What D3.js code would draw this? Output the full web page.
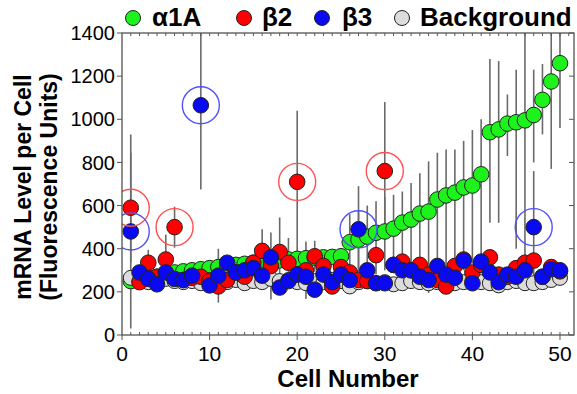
<!DOCTYPE html>
<html>
<head>
<meta charset="utf-8">
<script src="https://cdnjs.cloudflare.com/ajax/libs/d3/7.8.5/d3.min.js"></script>
<style>
body { margin: 0; background: #fff; }
text { font-family: "Liberation Sans", Arial, Helvetica, sans-serif; }
</style>
</head>
<body>
<svg id="chart" width="577" height="394"></svg>
<script>
// cell numbers 1..50
var cells = d3.range(1, 51);

// alpha1A (sorted, green)
var alpha1A = [250, 260, 265, 270, 280, 290, 295, 300, 305, 310,
               315, 320, 325, 330, 335, 340, 343, 346, 350, 353,
               356, 358, 360, 362, 365, 430, 442, 456, 474, 480,
               493, 521, 535, 563, 572, 628, 647, 660, 684, 693,
               745, 940, 953, 980, 986, 995, 1020, 1090, 1175, 1260];
// bar ends for alpha1A (0 = no visible bar)
var alphaHi = [0, 0, 0, 0, 0, 0, 0, 0, 0, 0,
               0, 0, 0, 0, 0, 0, 0, 0, 0, 0,
               0, 0, 0, 0, 0, 560, 580, 600, 620, 640,
               650, 665, 705, 750, 805, 845, 860, 860, 900, 950,
               1000, 1280, 1270, 1115, 1230, 1450, 1230, 1256, 1450, 1450];
var alphaLo = [0, 0, 0, 0, 0, 0, 0, 0, 0, 0,
               0, 0, 0, 0, 0, 0, 0, 0, 0, 0,
               0, 0, 0, 0, 0, 300, 310, 320, 280, 300,
               290, 300, 290, 240, 195, 230, 260, 280, 300, 330,
               350, 520, 520, 830, 400, 370, 800, 930, 770, 960];

var beta2 = [590, 245, 335, 270, 350, 500, 255, 265, 270, 250,
             225, 255, 290, 270, 335, 390, 320, 385, 335, 710,
             300, 365, 320, 225, 315, 290, 255, 250, 370, 760,
             325, 340, 300, 325, 280, 255, 225, 320, 350, 290,
             325, 360, 280, 270, 310, 335, 345, 270, 315, 295];
var beta2Err = [255, 0, 60, 0, 115, 95, 0, 0, 0, 0,
                0, 0, 0, 0, 0, 100, 155, 160, 115, 330,
                133, 72, 0, 0, 0, 0, 0, 0, 0, 320,
                0, 0, 0, 0, 0, 0, 0, 0, 0, 0,
                0, 0, 0, 0, 0, 0, 0, 0, 0, 0];

var beta3 = [480, 290, 260, 235, 290, 260, 255, 275, 1065, 230,
             275, 335, 290, 300, 310, 275, 360, 220, 250, 280,
             270, 210, 280, 245, 280, 255, 490, 300, 240, 240,
             325, 300, 300, 270, 255, 320, 280, 265, 345, 240,
             340, 290, 245, 280, 270, 300, 500, 270, 305, 300];
var beta3Err = [450, 0, 0, 0, 0, 0, 0, 0, 390, 0,
                125, 0, 0, 0, 0, 0, 0, 0, 0, 0,
                0, 0, 0, 0, 0, 0, 200, 0, 0, 0,
                0, 0, 0, 0, 0, 0, 0, 0, 0, 0,
                0, 0, 0, 0, 0, 0, 260, 0, 0, 0];

var background = [265, 250, 245, 255, 260, 250, 245, 250, 240, 255,
                  250, 245, 255, 240, 250, 245, 260, 250, 255, 245,
                  240, 250, 245, 255, 250, 225, 245, 250, 240, 245,
                  235, 240, 250, 245, 240, 245, 250, 240, 245, 250,
                  245, 240, 230, 245, 250, 240, 240, 245, 255, 265];

// circled cells
var beta2Marked = [1, 6, 20, 30];
var beta3Marked = [1, 9, 27, 47];

var yTicks = [0, 200, 400, 600, 800, 1000, 1200, 1400];
var xTicks = [0, 10, 20, 30, 40, 50];

var svg = d3.select("#chart");
var pLeft = 122, pRight = 574, pTop = 33, pBottom = 335;

var x = d3.scaleLinear().domain([0, 51.6]).range([pLeft, pRight]);
var y = d3.scaleLinear().domain([0, 1400]).range([pBottom, pTop]);

var plot = svg.append("g");
plot.append("clipPath").attr("id", "clip")
  .append("rect").attr("x", pLeft).attr("y", pTop).attr("width", pRight - pLeft).attr("height", pBottom - pTop);

var marks = plot.append("g").attr("clip-path", "url(#clip)");

// error bars
var bars = [];
cells.forEach(function (c, i) {
  if (alphaHi[i]) bars.push({c: c, lo: alphaLo[i], hi: alphaHi[i]});
  if (beta2Err[i]) bars.push({c: c, lo: beta2[i] - beta2Err[i], hi: beta2[i] + beta2Err[i]});
  if (beta3Err[i]) bars.push({c: c, lo: beta3[i] - beta3Err[i], hi: beta3[i] + beta3Err[i]});
});
marks.selectAll("line.err").data(bars).enter().append("line")
  .attr("class", "err")
  .attr("x1", function (d) { return x(d.c); })
  .attr("x2", function (d) { return x(d.c); })
  .attr("y1", function (d) { return y(d.lo); })
  .attr("y2", function (d) { return y(d.hi); })
  .attr("stroke", "#6a6a6a")
  .attr("stroke-width", 1.6);

function dots(values, fill, r) {
  marks.append("g").selectAll("circle").data(values).enter().append("circle")
    .attr("cx", function (d, i) { return x(cells[i]); })
    .attr("cy", function (d) { return y(d); })
    .attr("r", r)
    .attr("fill", fill)
    .attr("stroke", "#222")
    .attr("stroke-width", 1);
}
dots(alpha1A, "#1df21d", 7.8);
dots(background, "#dcdcdc", 7.5);
dots(beta2, "#ff0000", 7.8);
dots(beta3, "#0a0af0", 7.8);

function rings(list, values, color) {
  marks.append("g").selectAll("circle").data(list).enter().append("circle")
    .attr("cx", function (c) { return x(c); })
    .attr("cy", function (c) { return y(values[c - 1]); })
    .attr("r", 18.5)
    .attr("fill", "none")
    .attr("stroke", color)
    .attr("stroke-width", 1.4);
}
rings(beta2Marked, beta2, "#ff5050");
rings(beta3Marked, beta3, "#5050ff");

// frame + axes
var frame = svg.append("g").attr("stroke", "#444").attr("fill", "none");
frame.append("rect").attr("x", pLeft).attr("y", pTop).attr("width", pRight - pLeft).attr("height", pBottom - pTop)
  .attr("stroke-width", 1.2);

var minor = d3.range(1, 52);
var ax = svg.append("g").attr("stroke", "#555").attr("stroke-width", 1);
ax.selectAll("line.tb").data(minor).enter().append("line")
  .attr("x1", function (d) { return x(d); }).attr("x2", function (d) { return x(d); })
  .attr("y1", pBottom).attr("y2", pBottom - 3);
ax.selectAll("line.tt").data(minor).enter().append("line")
  .attr("x1", function (d) { return x(d); }).attr("x2", function (d) { return x(d); })
  .attr("y1", pTop).attr("y2", pTop + 3);
ax.selectAll("line.xm").data(xTicks).enter().append("line")
  .attr("x1", function (d) { return x(d); }).attr("x2", function (d) { return x(d); })
  .attr("y1", pBottom).attr("y2", pBottom + 5);
ax.selectAll("line.yl").data(yTicks).enter().append("line")
  .attr("x1", pLeft - 5).attr("x2", pLeft)
  .attr("y1", function (d) { return y(d); }).attr("y2", function (d) { return y(d); });
ax.selectAll("line.yr").data(yTicks).enter().append("line")
  .attr("x1", pRight - 5).attr("x2", pRight)
  .attr("y1", function (d) { return y(d); }).attr("y2", function (d) { return y(d); });

svg.append("g").selectAll("text").data(yTicks).enter().append("text")
  .attr("x", pLeft - 7)
  .attr("y", function (d) { return y(d); })
  .attr("dy", "0.36em")
  .attr("text-anchor", "end")
  .attr("font-size", 20)
  .text(function (d) { return d; });

svg.append("g").selectAll("text").data(xTicks).enter().append("text")
  .attr("x", function (d) { return x(d); })
  .attr("y", 361)
  .attr("text-anchor", "middle")
  .attr("font-size", 21)
  .text(function (d) { return d; });

svg.append("text").attr("x", 348).attr("y", 387).attr("text-anchor", "middle")
  .attr("font-size", 24).attr("font-weight", "bold").text("Cell Number");

svg.append("text").attr("transform", "translate(31,187) rotate(-90)").attr("text-anchor", "middle")
  .attr("font-size", 23).attr("font-weight", "bold").text("mRNA Level per Cell");
svg.append("text").attr("transform", "translate(57,187) rotate(-90)").attr("text-anchor", "middle")
  .attr("font-size", 23).attr("font-weight", "bold").text("(Fluorescence Units)");

// legend
var legend = [
  {label: "α1A", fill: "#1df21d", cx: 133, tx: 152},
  {label: "β2", fill: "#ff0000", cx: 244, tx: 262},
  {label: "β3", fill: "#0a0af0", cx: 322, tx: 342},
  {label: "Background", fill: "#dcdcdc", cx: 402, tx: 420}
];
var lg = svg.append("g");
lg.selectAll("circle").data(legend).enter().append("circle")
  .attr("cx", function (d) { return d.cx; }).attr("cy", 18).attr("r", 7.5)
  .attr("fill", function (d) { return d.fill; }).attr("stroke", "#222");
lg.selectAll("text").data(legend).enter().append("text")
  .attr("x", function (d) { return d.tx; }).attr("y", 26)
  .attr("font-size", 26).attr("font-weight", "bold")
  .text(function (d) { return d.label; });
</script>
</body>
</html>
